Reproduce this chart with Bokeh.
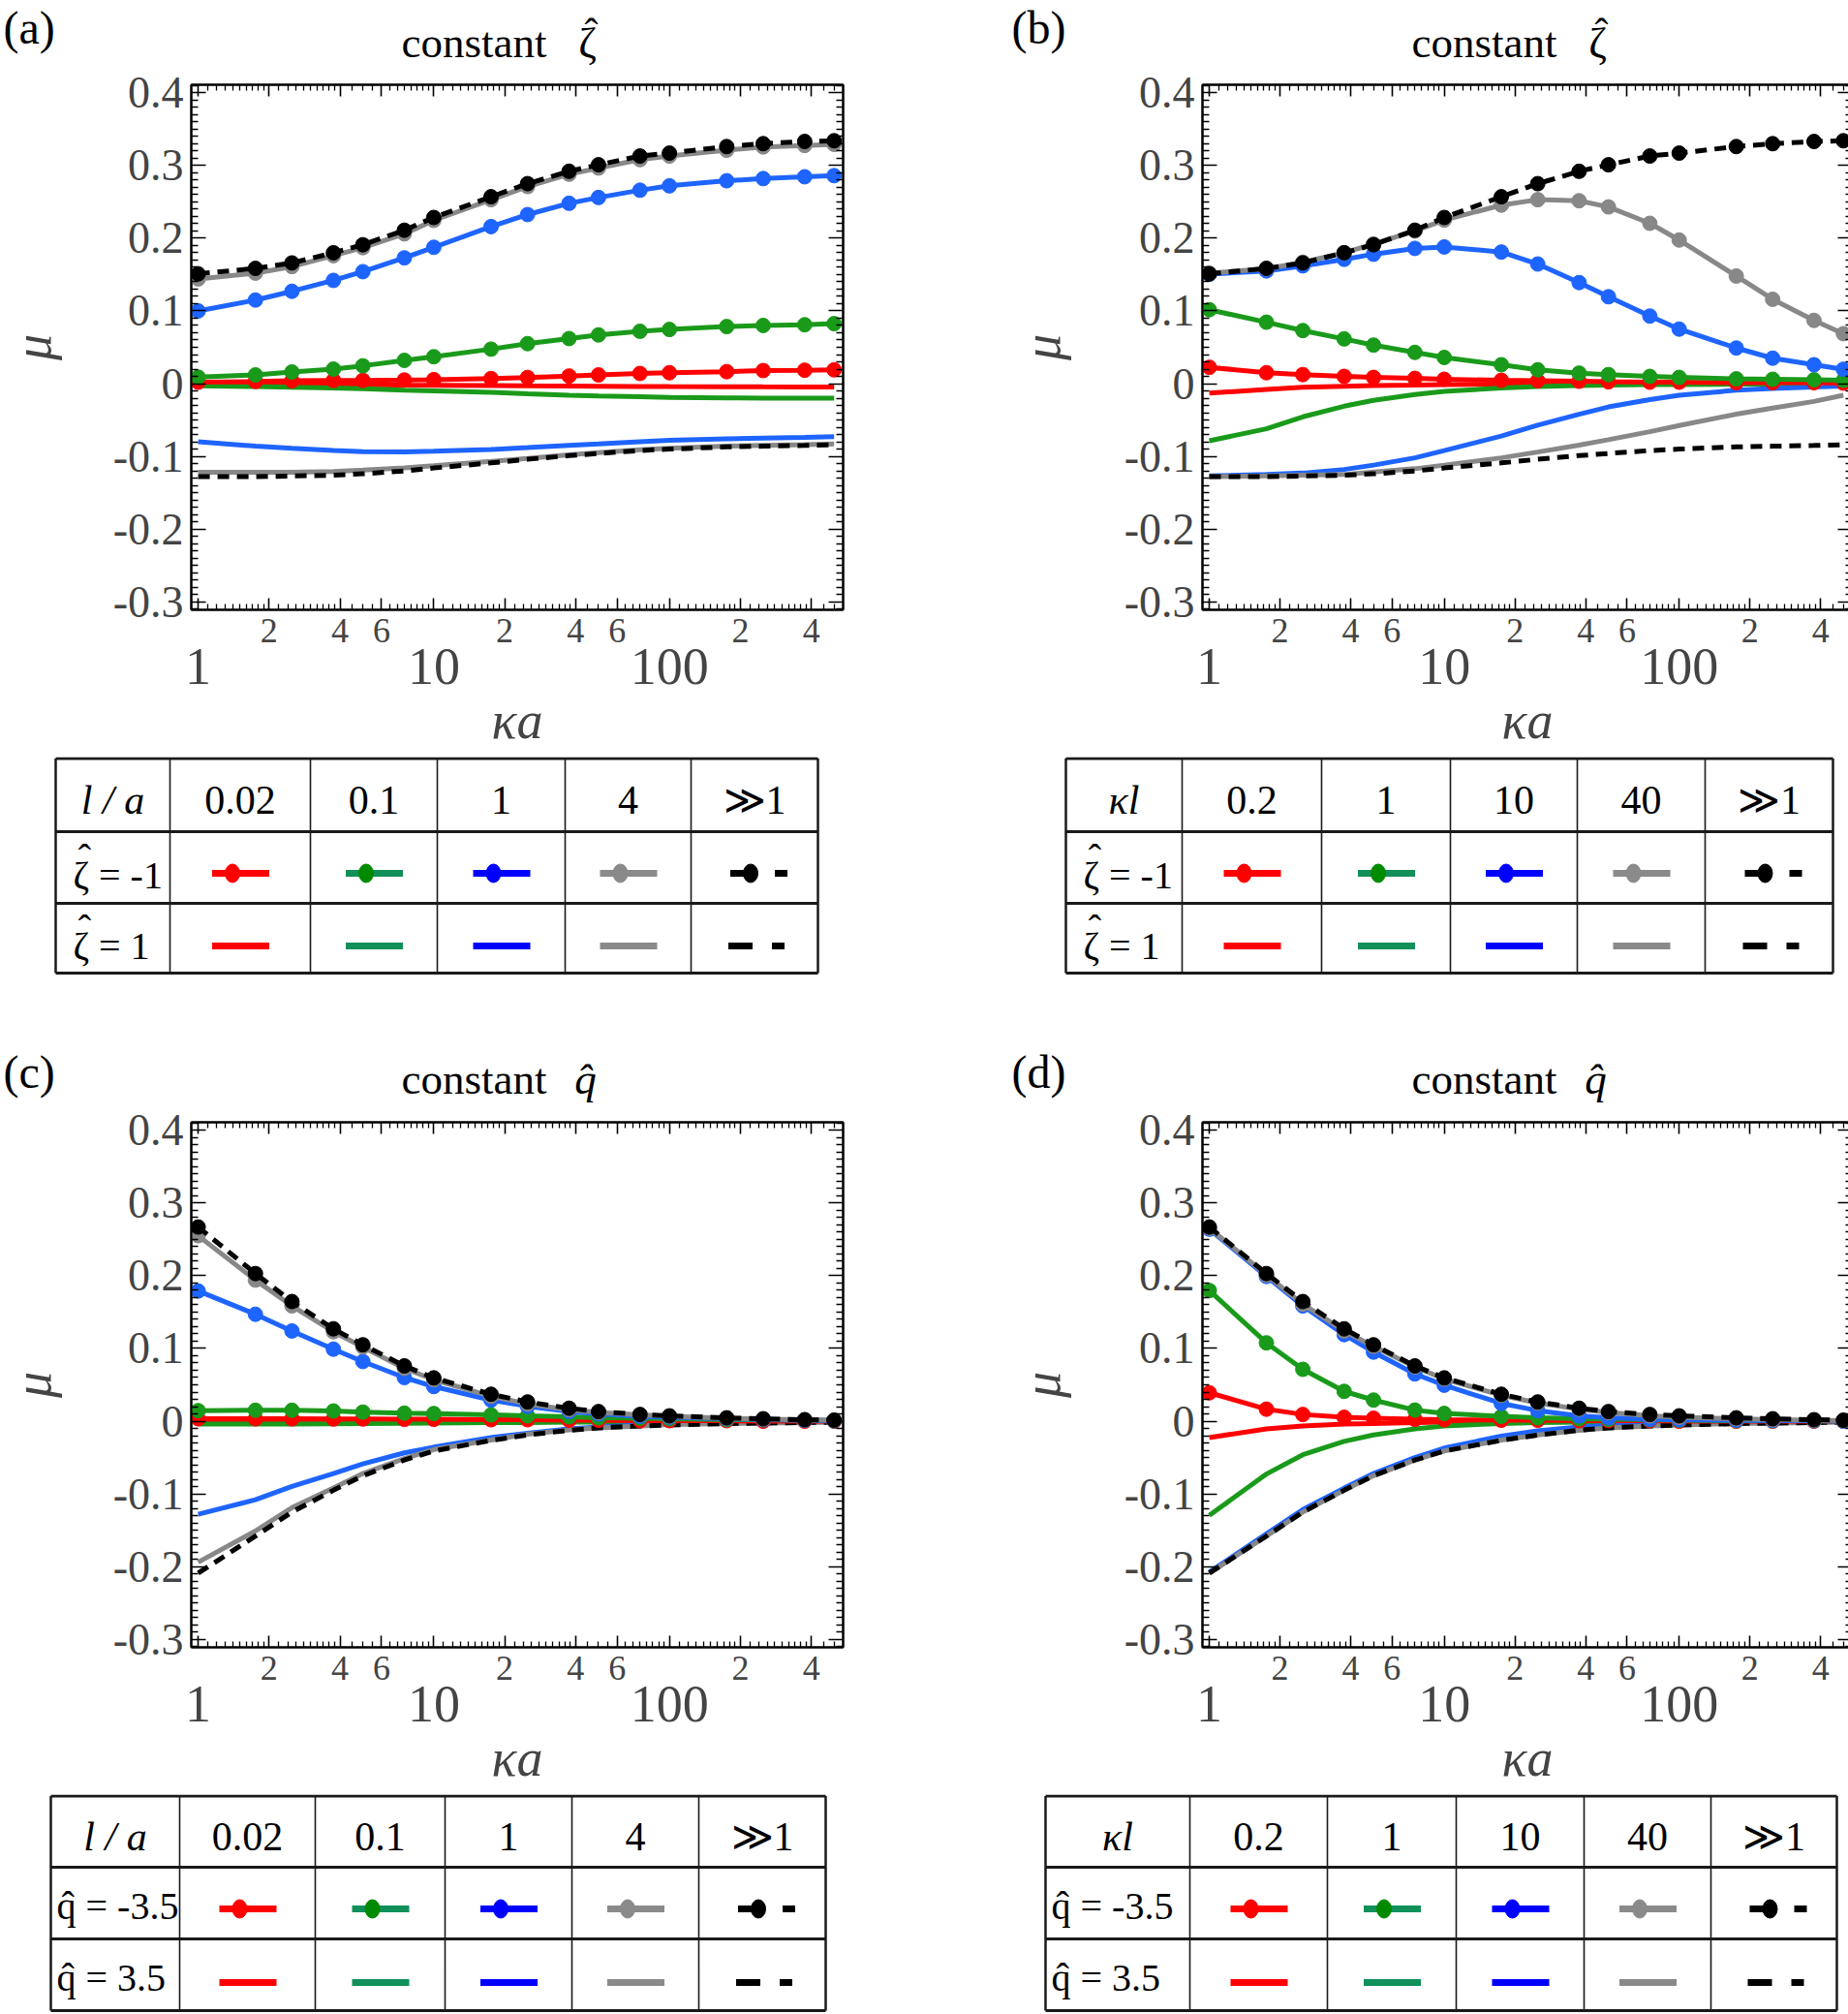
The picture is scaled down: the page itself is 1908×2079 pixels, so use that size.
from bokeh.plotting import figure
from bokeh.models import (Range1d, LogAxis, LinearAxis, FixedTicker,
                          CustomJSTickFormatter)
from bokeh.layouts import row, column
from bokeh.core.properties import value
from bokeh.embed import file_html
from bokeh.resources import INLINE

# ---------------- data ----------------
KA = [1, 1.75, 2.5, 3.75, 5, 7.5, 10, 17.5, 25, 37.5, 50, 75, 100, 175, 250, 375, 500]

# limit l >> 1 (same in (a)/(b) and in (c)/(d))
ZINF_NEG = [0.151, 0.1585, 0.166, 0.180, 0.191, 0.211, 0.2285, 0.257, 0.275, 0.292, 0.301, 0.313, 0.317, 0.326, 0.330, 0.333, 0.334]
ZINF_POS = [-0.128, -0.128, -0.127, -0.126, -0.124, -0.120, -0.116, -0.109, -0.104, -0.099, -0.096, -0.092, -0.090, -0.087, -0.086, -0.085, -0.084]
QINF_NEG = [0.267, 0.203, 0.1645, 0.127, 0.105, 0.076, 0.0595, 0.037, 0.0264, 0.0178, 0.0132, 0.0092, 0.0073, 0.0046, 0.0033, 0.002, 0.0013]
QINF_POS = [-0.209, -0.158, -0.125, -0.095, -0.075, -0.0535, -0.041, -0.0264, -0.019, -0.0125, -0.0092, -0.0066, -0.0053, -0.0033, -0.0026, -0.002, -0.0013]

# (a) constant zeta, l/a = 0.02, 0.1, 1, 4
A_NEG_002 = [0.002, 0.003, 0.004, 0.0045, 0.0045, 0.005, 0.0055, 0.007, 0.0085, 0.0105, 0.012, 0.014, 0.015, 0.0165, 0.018, 0.0185, 0.019]
A_NEG_01 = [0.009, 0.012, 0.016, 0.020, 0.0245, 0.032, 0.037, 0.0475, 0.055, 0.062, 0.067, 0.072, 0.0745, 0.0785, 0.080, 0.081, 0.0825]
A_NEG_1 = [0.100, 0.115, 0.127, 0.142, 0.154, 0.173, 0.1875, 0.216, 0.2325, 0.248, 0.256, 0.266, 0.272, 0.279, 0.282, 0.2845, 0.286]
A_NEG_4 = [0.144, 0.152, 0.161, 0.176, 0.187, 0.206, 0.2245, 0.253, 0.271, 0.288, 0.2965, 0.308, 0.313, 0.321, 0.3255, 0.3275, 0.329]
A_POS_002 = [0.0, -0.0005, -0.001, -0.0012, -0.0015, -0.002, -0.0022, -0.0027, -0.003, -0.0033, -0.0035, -0.0038, -0.004, -0.0042, -0.0044, -0.0045, -0.0045]
A_POS_01 = [-0.003, -0.004, -0.005, -0.006, -0.007, -0.009, -0.010, -0.012, -0.014, -0.016, -0.017, -0.018, -0.019, -0.0195, -0.020, -0.020, -0.020]
A_POS_1 = [-0.080, -0.086, -0.089, -0.092, -0.0935, -0.094, -0.093, -0.0905, -0.088, -0.085, -0.083, -0.080, -0.078, -0.076, -0.075, -0.074, -0.073]
A_POS_4 = [-0.122, -0.122, -0.122, -0.121, -0.119, -0.116, -0.113, -0.107, -0.103, -0.098, -0.095, -0.091, -0.089, -0.086, -0.085, -0.084, -0.083]

# (b) constant zeta, kappa l = 0.2, 1, 10, 40
B_NEG_02 = [0.0225, 0.015, 0.0125, 0.010, 0.0086, 0.0073, 0.006, 0.0046, 0.004, 0.0033, 0.0026, 0.002, 0.002, 0.0013, 0.0013, 0.0013, 0.0007]
B_NEG_1 = [0.1017, 0.0845, 0.073, 0.0615, 0.053, 0.043, 0.036, 0.026, 0.019, 0.0145, 0.0125, 0.010, 0.0086, 0.0066, 0.006, 0.0053, 0.0046]
B_NEG_10 = [0.1505, 0.155, 0.162, 0.171, 0.178, 0.186, 0.188, 0.181, 0.1645, 0.139, 0.1195, 0.093, 0.075, 0.049, 0.035, 0.026, 0.0198]
B_NEG_40 = [0.152, 0.158, 0.167, 0.180, 0.192, 0.210, 0.225, 0.2455, 0.253, 0.2515, 0.243, 0.2205, 0.1975, 0.148, 0.116, 0.087, 0.0687]
B_POS_02 = [-0.013, -0.008, -0.005, -0.0035, -0.0026, -0.002, -0.0013, -0.0007, -0.0005, -0.0004, -0.0003, -0.0002, -0.0002, -0.0001, -0.0001, 0.0, 0.0]
B_POS_1 = [-0.0786, -0.062, -0.0456, -0.031, -0.023, -0.015, -0.0106, -0.006, -0.004, -0.0026, -0.002, -0.0013, -0.0013, -0.0007, -0.0007, -0.0003, -0.0003]
B_POS_10 = [-0.127, -0.125, -0.123, -0.118, -0.112, -0.102, -0.092, -0.072, -0.057, -0.042, -0.032, -0.022, -0.016, -0.009, -0.0066, -0.0046, -0.0033]
B_POS_40 = [-0.128, -0.127, -0.126, -0.125, -0.1215, -0.117, -0.112, -0.102, -0.094, -0.0845, -0.077, -0.066, -0.0575, -0.042, -0.0337, -0.0244, -0.016]

# (c) constant q, l/a = 0.02, 0.1, 1, 4
C_NEG_002 = [0.0033, 0.0033, 0.0033, 0.003, 0.003, 0.0026, 0.0026, 0.002, 0.002, 0.0013, 0.0013, 0.0007, 0.0007, 0.0007, 0.0, 0.0, 0.0]
C_NEG_01 = [0.0145, 0.015, 0.015, 0.014, 0.0125, 0.011, 0.0105, 0.0086, 0.0073, 0.006, 0.0046, 0.004, 0.0033, 0.002, 0.002, 0.0013, 0.0007]
C_NEG_1 = [0.179, 0.147, 0.124, 0.099, 0.082, 0.060, 0.0476, 0.029, 0.0205, 0.0132, 0.0099, 0.0066, 0.0053, 0.0033, 0.002, 0.0013, 0.0007]
C_NEG_4 = [0.255, 0.194, 0.1585, 0.123, 0.102, 0.0727, 0.057, 0.0343, 0.0238, 0.0158, 0.0119, 0.0086, 0.0066, 0.004, 0.0026, 0.002, 0.0013]
C_POS_002 = [-0.0013, -0.0013, -0.0012, -0.0011, -0.001, -0.0009, -0.0008, -0.0006, -0.0005, -0.0004, -0.0003, -0.0002, -0.0002, -0.0001, -0.0001, 0.0, 0.0]
C_POS_01 = [-0.004, -0.004, -0.004, -0.0035, -0.0033, -0.003, -0.0026, -0.002, -0.002, -0.0013, -0.0013, -0.0007, -0.0007, -0.0007, 0.0, 0.0, 0.0]
C_POS_1 = [-0.128, -0.108, -0.0898, -0.072, -0.0588, -0.0436, -0.0357, -0.0225, -0.0165, -0.0106, -0.008, -0.0053, -0.004, -0.0026, -0.002, -0.0013, -0.0007]
C_POS_4 = [-0.194, -0.151, -0.119, -0.092, -0.072, -0.0515, -0.039, -0.026, -0.0178, -0.0119, -0.0092, -0.0066, -0.0046, -0.0033, -0.0026, -0.002, -0.0013]

# (d) constant q, kappa l = 0.2, 1, 10, 40
D_NEG_02 = [0.039, 0.0165, 0.0092, 0.0053, 0.004, 0.0026, 0.002, 0.0013, 0.0013, 0.0007, 0.0007, 0.0007, 0.0, 0.0, 0.0, 0.0, 0.0]
D_NEG_1 = [0.1797, 0.1077, 0.0713, 0.041, 0.029, 0.0152, 0.0106, 0.0066, 0.0046, 0.0033, 0.0026, 0.002, 0.0013, 0.0007, 0.0007, 0.0007, 0.0]
D_NEG_10 = [0.264, 0.199, 0.1585, 0.119, 0.095, 0.065, 0.0495, 0.0244, 0.0145, 0.0073, 0.0046, 0.0026, 0.002, 0.0013, 0.0007, 0.0007, 0.0]
D_NEG_40 = [0.2655, 0.201, 0.161, 0.124, 0.103, 0.0746, 0.058, 0.0357, 0.025, 0.0165, 0.0119, 0.0073, 0.0053, 0.0033, 0.002, 0.0013, 0.0007]
D_POS_02 = [-0.0225, -0.0106, -0.0066, -0.004, -0.0033, -0.002, -0.0013, -0.0007, -0.0007, 0.0, 0.0, 0.0, 0.0, 0.0, 0.0, 0.0, 0.0]
D_POS_1 = [-0.1295, -0.0727, -0.0462, -0.0277, -0.019, -0.0106, -0.0066, -0.0033, -0.002, -0.0013, -0.0007, -0.0007, 0.0, 0.0, 0.0, 0.0, 0.0]
D_POS_10 = [-0.2075, -0.155, -0.1215, -0.092, -0.072, -0.050, -0.037, -0.0205, -0.0132, -0.008, -0.006, -0.0033, -0.0026, -0.0013, -0.0007, -0.0007, 0.0]
D_POS_40 = [-0.209, -0.158, -0.125, -0.095, -0.075, -0.0535, -0.041, -0.026, -0.019, -0.0125, -0.0092, -0.0066, -0.0053, -0.0033, -0.0026, -0.002, -0.0013]

# tick values / labels
Y_TICKS = [-0.3, -0.2, -0.1, 0, 0.1, 0.2, 0.3, 0.4]
X_TICKS = [1, 2, 4, 6, 10, 20, 40, 60, 100, 200, 400]
X_MAJOR_LABEL_TICKS = [1, 10, 100]

HEAD_LA = ["l / a", "0.02", "0.1", "1", "4", "\u226b1"]
HEAD_KL = ["\u03bal", "0.2", "1", "10", "40", "\u226b1"]
ROWS_Z = ["\u03b6 = -1", "\u03b6 = 1"]          # hat drawn above the zeta
ROWS_Q = ["q\u0302 = -3.5", "q\u0302 = 3.5"]
HAT = "\u02c6"

# ---------------- styling ----------------
SERIF = "Liberation Serif"
PLOT_COLORS = ["#FF0000", "#1A9A1A", "#1E64FF", "#888888", "#000000"]
LEG_LINE = ["#FF0000", "#11905A", "#0000FF", "#8A8A8A", "#000000"]
LEG_MARK = ["#FF0000", "#008A00", "#0000FF", "#8A8A8A", "#000000"]

MANT = [1.1, 1.2, 1.3, 1.4, 1.5, 1.6, 1.7, 1.8, 1.9, 2.2, 2.4, 2.6, 2.8, 3.0, 3.2,
        3.4, 3.6, 3.8, 4.5, 5.0, 5.5, 6.5, 7.0, 7.5, 8.0, 8.5, 9.0, 9.5]
X_MINOR = [round(m * d, 3) for d in (1, 10, 100) for m in MANT if m * d < 546]
Y_MINOR = [round(i * 0.01, 2) for i in range(-31, 42) if i % 10 != 0]

X_RANGE = (0.935, 546)
Y_RANGE = (-0.311, 0.411)

Y_FMT = "return (Math.abs(tick) < 1e-9) ? '0' : tick.toFixed(1);"
X_MINOR_FMT = ("const e = Math.floor(Math.log10(tick) + 1e-9);"
               "const m = Math.round(tick / Math.pow(10, e));"
               "return (m == 1) ? '' : String(m);")
X_MAJOR_FMT = "return String(Math.round(tick));"
BLANK_FMT = "return '';"


def style_ticks(ax, major_in, minor_in):
    ax.major_tick_in = major_in
    ax.major_tick_out = 0
    ax.minor_tick_in = minor_in
    ax.minor_tick_out = 0
    ax.major_tick_line_width = 1.6
    ax.minor_tick_line_width = 1.3
    ax.major_tick_line_color = "black"
    ax.minor_tick_line_color = "black"
    ax.axis_line_width = 2
    ax.axis_line_color = "black"


def pixel_fig(w, h):
    f = figure(width=w, height=h, x_range=Range1d(0, w), y_range=Range1d(h, 0),
               min_border=0, toolbar_location=None, output_backend="svg",
               x_axis_location=None, y_axis_location=None, frame_align=False,
               background_fill_color="white", border_fill_color="white")
    f.grid.visible = False
    f.outline_line_color = None
    return f


def make_header(w, h, letter, lx, ly, title_left, ty, symbol, sym_x, sym_italic, hat):
    f = pixel_fig(w, h)
    f.text(x=[lx], y=[ly], text=[letter], text_font=value(SERIF),
           text_font_size="48px", text_align="left", text_baseline="middle")
    f.text(x=[title_left], y=[ty], text=["constant"], text_font=value(SERIF),
           text_font_size="45px", text_align="left", text_baseline="middle")
    f.text(x=[sym_x], y=[ty], text=[symbol], text_font=value(SERIF),
           text_font_style="italic" if sym_italic else "normal",
           text_font_size="45px", text_align="center", text_baseline="middle")
    if hat:
        f.text(x=[sym_x + 4], y=[ty - 10], text=[HAT], text_font=value(SERIF),
               text_font_size="42px", text_align="center", text_baseline="middle")
    return f


def make_plot(neg, pos, inf_neg, inf_pos, mb_left, frame_w, mb_right, mb_top, ylab_standoff):
    p = figure(x_axis_type="log", x_range=Range1d(*X_RANGE), y_range=Range1d(*Y_RANGE),
               frame_width=frame_w, frame_height=542,
               min_border_left=mb_left, min_border_right=mb_right,
               min_border_top=mb_top, min_border_bottom=152, frame_align=False,
               toolbar_location=None, output_backend="svg",
               background_fill_color="white", border_fill_color="white")
    p.grid.visible = False
    p.outline_line_color = "black"
    p.outline_line_width = 2

    # bottom axis 1: ticks + small labels 2,4,6
    xa = p.xaxis[0]
    xa.ticker = FixedTicker(ticks=X_TICKS, minor_ticks=X_MINOR)
    xa.formatter = CustomJSTickFormatter(code=X_MINOR_FMT)
    style_ticks(xa, 12, 6)
    xa.major_label_text_font = SERIF
    xa.major_label_text_font_size = "36px"
    xa.major_label_standoff = 9

    # bottom axis 2: decade labels and axis title
    xb = LogAxis(ticker=FixedTicker(ticks=X_MAJOR_LABEL_TICKS, minor_ticks=[]),
                 formatter=CustomJSTickFormatter(code=X_MAJOR_FMT))
    xb.axis_line_color = None
    xb.major_tick_in = 0
    xb.major_tick_out = 0
    xb.minor_tick_in = 0
    xb.minor_tick_out = 0
    xb.major_label_text_font = SERIF
    xb.major_label_text_font_size = "54px"
    xb.major_label_standoff = 4
    xb.axis_label = "\u03baa"
    xb.axis_label_text_font = SERIF
    xb.axis_label_text_font_style = "italic"
    xb.axis_label_text_font_size = "54px"
    xb.axis_label_standoff = 5
    p.add_layout(xb, "below")

    # top mirror
    xt = LogAxis(ticker=FixedTicker(ticks=X_TICKS, minor_ticks=X_MINOR),
                 formatter=CustomJSTickFormatter(code=BLANK_FMT))
    style_ticks(xt, 12, 6)
    xt.major_label_text_font_size = "1px"
    xt.major_label_standoff = 0
    p.add_layout(xt, "above")

    # left axis
    ya = p.yaxis[0]
    ya.ticker = FixedTicker(ticks=Y_TICKS, minor_ticks=Y_MINOR)
    ya.formatter = CustomJSTickFormatter(code=Y_FMT)
    style_ticks(ya, 15, 7)
    ya.major_label_text_font = SERIF
    ya.major_label_text_font_size = "46px"
    ya.major_label_standoff = 8
    ya.axis_label = "\u03bc"
    ya.axis_label_text_font = SERIF
    ya.axis_label_text_font_style = "italic"
    ya.axis_label_text_font_size = "54px"
    ya.axis_label_standoff = ylab_standoff

    # right mirror
    yr = LinearAxis(ticker=FixedTicker(ticks=Y_TICKS, minor_ticks=Y_MINOR),
                    formatter=CustomJSTickFormatter(code=BLANK_FMT))
    style_ticks(yr, 15, 7)
    yr.major_label_text_font_size = "1px"
    yr.major_label_standoff = 0
    p.add_layout(yr, "right")

    # positive-potential family (plain lines) first
    for ys, col in zip(pos, PLOT_COLORS[:4]):
        p.line(KA, ys, line_color=col, line_width=5)
    p.line(KA, inf_pos, line_color="black", line_width=5, line_dash="12 8")
    # negative-potential family (lines with dots)
    for ys, col in zip(neg, PLOT_COLORS[:4]):
        p.line(KA, ys, line_color=col, line_width=5)
        p.scatter(KA, ys, size=15, fill_color=col, line_color=col)
    p.line(KA, inf_neg, line_color="black", line_width=5, line_dash="12 8")
    p.scatter(KA, inf_neg, size=15, fill_color="black", line_color="black")
    return p


def make_table(fig_w, fig_h, cols, rows, header, row_labels, zeta_hats):
    t = pixel_fig(fig_w, fig_h)
    n = len(cols)
    t.segment(x0=[cols[0]] * len(rows), x1=[cols[-1]] * len(rows), y0=rows, y1=rows,
              line_color="#1a1a1a", line_width=3)
    t.segment(x0=cols, x1=cols, y0=[rows[0]] * n, y1=[rows[-1]] * n, line_color="#1a1a1a",
              line_width=[2.5 if i in (0, n - 1) else 1.6 for i in range(n)])

    cx = [(cols[i] + cols[i + 1]) / 2 for i in range(n - 1)]
    cy = [(rows[i] + rows[i + 1]) / 2 for i in range(len(rows) - 1)]

    t.text(x=[cx[0]], y=[cy[0] + 5], text=[header[0]], text_font=value(SERIF),
           text_font_style="italic", text_font_size="42px",
           text_align="center", text_baseline="middle")
    t.text(x=cx[1:], y=[cy[0] + 5] * (n - 2), text=header[1:], text_font=value(SERIF),
           text_font_size="42px", text_align="center", text_baseline="middle")
    if zeta_hats:
        lx = cols[0] + 18
        t.text(x=[lx, lx], y=[cy[1] + 8, cy[2] + 8], text=row_labels, text_font=value(SERIF),
               text_font_size="40px", text_align="left", text_baseline="middle")
        t.text(x=[lx + 12, lx + 12], y=[cy[1] - 10, cy[2] - 10], text=[HAT, HAT],
               text_font=value(SERIF), text_font_size="40px",
               text_align="center", text_baseline="middle")
    else:
        lx = cols[0] + 6
        t.text(x=[lx, lx], y=[cy[1] + 3, cy[2] + 3], text=row_labels, text_font=value(SERIF),
               text_font_size="40px", text_align="left", text_baseline="middle")

    # legend samples
    for i in range(4):
        c = cx[i + 1]
        t.segment(x0=[c - 29], x1=[c + 30], y0=[cy[1] + 6], y1=[cy[1] + 6],
                  line_color=LEG_LINE[i], line_width=7)
        t.ellipse(x=[c - 8], y=[cy[1] + 6], width=15, height=19,
                  fill_color=LEG_MARK[i], line_color=LEG_MARK[i])
        t.segment(x0=[c - 29], x1=[c + 30], y0=[cy[2] + 8], y1=[cy[2] + 8],
                  line_color=LEG_LINE[i], line_width=7)
    c = cx[5]
    t.segment(x0=[c - 25], x1=[c + 34], y0=[cy[1] + 6], y1=[cy[1] + 6],
              line_color="black", line_width=7, line_dash="15 31")
    t.ellipse(x=[c - 4], y=[cy[1] + 6], width=15, height=19,
              fill_color="black", line_color="black")
    t.segment(x0=[c - 27], x1=[c + 31], y0=[cy[2] + 8], y1=[cy[2] + 8],
              line_color="black", line_width=7, line_dash="25 20")
    return t


LW, RW = 1038, 870   # quadrant widths (page has no margin)

ha = make_header(LW, 68, "(a)", 3, 28, 414, 43, "\u03b6", 606, False, True)
hb = make_header(RW, 68, "(b)", 2, 28, 415, 43, "\u03b6", 607, False, True)
hc = make_header(LW, 130, "(c)", 3, 97, 414, 104, "q\u0302", 604, True, False)
hd = make_header(RW, 130, "(d)", 2, 97, 415, 104, "q\u0302", 605, True, False)

pa = make_plot([A_NEG_002, A_NEG_01, A_NEG_1, A_NEG_4], [A_POS_002, A_POS_01, A_POS_1, A_POS_4],
               ZINF_NEG, ZINF_POS, 193, 673, 172, 19, 50)
pb = make_plot([B_NEG_02, B_NEG_1, B_NEG_10, B_NEG_40], [B_POS_02, B_POS_1, B_POS_10, B_POS_40],
               ZINF_NEG, ZINF_POS, 195, 671, 4, 19, 52)
pc = make_plot([C_NEG_002, C_NEG_01, C_NEG_1, C_NEG_4], [C_POS_002, C_POS_01, C_POS_1, C_POS_4],
               QINF_NEG, QINF_POS, 193, 673, 172, 19, 50)
pd_ = make_plot([D_NEG_02, D_NEG_1, D_NEG_10, D_NEG_40], [D_POS_02, D_POS_1, D_POS_10, D_POS_40],
                QINF_NEG, QINF_POS, 195, 671, 4, 19, 52)

ta = make_table(LW, 228, [57, 175, 320, 451, 583, 713, 844], [1.5, 77, 151, 223], HEAD_LA, ROWS_Z, True)
tb = make_table(RW, 228, [58, 178, 322, 455, 586, 718, 850], [1.5, 77, 151, 223], HEAD_KL, ROWS_Z, True)
tc = make_table(LW, 227, [52, 185, 325, 459, 590, 721, 852], [1.5, 75, 149, 223], HEAD_LA, ROWS_Q, False)
td = make_table(RW, 227, [37, 186, 328, 461, 593, 724, 854], [1.5, 75, 149, 223], HEAD_KL, ROWS_Q, False)

layout = column(row(column(ha, pa, ta), column(hb, pb, tb)),
                row(column(hc, pc, tc), column(hd, pd_, td)))

open("out.html", "w", encoding="utf-8").write(file_html(layout, INLINE, title="mobility"))
